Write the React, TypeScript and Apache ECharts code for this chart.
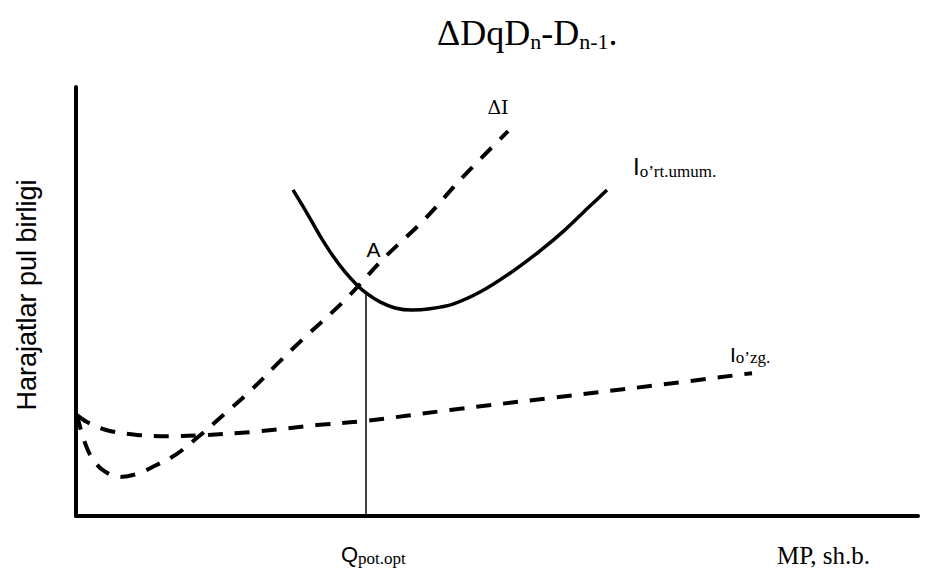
import React, { useEffect, useRef } from "react";
import * as echarts from "echarts";

// Curve points in chart units (x: 0..100, y: 0..100)
const deltaICurve: [number, number][] = [
  [0.12, 23.5], [0.95, 17.7], [1.9, 13.5], [3.33, 10.5], [5.23, 9.1], [7.24, 9.8],
  [9.38, 11.7], [11.99, 14.5], [14.49, 18.4], [17.46, 23.5], [20.67, 29.1],
  [24.23, 36.1], [26.6, 40.6], [32.07, 50.6], [36.46, 59.9], [41.33, 69.0],
  [45.84, 78.8], [51.31, 89.7],
];

const variableCostCurve: [number, number][] = [
  [0.12, 23.5], [1.31, 21.9], [3.68, 20.0], [7.24, 18.9], [11.16, 18.6], [14.73, 18.8],
  [21.02, 19.6], [28.62, 21.2], [34.09, 22.1], [44.42, 24.7], [56.29, 27.5],
  [68.17, 30.3], [80.29, 33.3],
];

const averageTotalCurve: [number, number][] = [
  [25.77, 76.0], [27.43, 70.6], [28.98, 65.3], [30.52, 60.6], [31.95, 56.9],
  [33.25, 54.1], [34.44, 52.0], [36.1, 49.9], [37.89, 48.5], [39.9, 48.0],
  [42.04, 48.3], [44.77, 49.4], [47.98, 52.2], [51.54, 56.6], [55.11, 61.8],
  [58.08, 66.7], [60.69, 71.6], [63.06, 76.0],
];

const optimumX = 34.44;
const optimumY = 52.0;
const optimumLine: [number, number][] = [
  [optimumX, 0],
  [optimumX, optimumY],
];

const titleParts = ["ΔDqD", "n", "-D", "n-1", "."];
const yAxisTitle = "Harajatlar pul birligi";
const xAxisTitle = "MP, sh.b.";

const SANS = "'Liberation Sans', Arial, sans-serif";
const SERIF = "'Liberation Serif', 'Times New Roman', serif";

export default function App() {
  const ref = useRef<HTMLDivElement>(null);

  useEffect(() => {
    if (!ref.current) return;
    const chart = echarts.init(ref.current, null, { renderer: "svg" });

    const axisCommon = {
      type: "value" as const,
      min: 0,
      max: 100,
      axisLine: { show: true, onZero: false, lineStyle: { color: "#000", width: 4 } },
      axisTick: { show: false },
      axisLabel: { show: false },
      splitLine: { show: false },
    };

    const dashed = { color: "#000", width: 4, type: [15, 12] as number[], cap: "butt" as const };

    chart.setOption({
      animation: false,
      backgroundColor: "#ffffff",
      grid: { left: 76, top: 87, right: 16, bottom: 54 },
      xAxis: axisCommon,
      yAxis: axisCommon,
      series: [
        {
          name: "ΔI",
          type: "line",
          data: deltaICurve,
          smooth: 0.35,
          symbol: "none",
          lineStyle: dashed,
        },
        {
          name: "I o'zg.",
          type: "line",
          data: variableCostCurve,
          smooth: 0.35,
          symbol: "none",
          lineStyle: dashed,
        },
        {
          name: "I o'rt.umum.",
          type: "line",
          data: averageTotalCurve,
          smooth: 0.3,
          symbol: "none",
          lineStyle: { color: "#000", width: 3.5 },
        },
        {
          name: "Q",
          type: "line",
          data: optimumLine,
          symbol: "none",
          lineStyle: { color: "#000", width: 1.5 },
        },
      ],
      graphic: [
        {
          type: "text",
          x: 437,
          y: 13,
          style: {
            text:
              `{m|${titleParts[0]}}{s|${titleParts[1]}}{m|${titleParts[2]}}{s|${titleParts[3]}}{m|${titleParts[4]}}`,
            align: "left",
            verticalAlign: "top",
            textAlign: "left",
            textVerticalAlign: "top",
            rich: {
              m: { fontFamily: SERIF, fontSize: 36, lineHeight: 39, verticalAlign: "middle", fill: "#000" },
              s: { fontFamily: SERIF, fontSize: 22, lineHeight: 23, verticalAlign: "bottom", fill: "#000" },
            },
          },
        },
        {
          type: "text",
          x: 27,
          y: 295,
          rotation: Math.PI / 2,
          style: {
            text: yAxisTitle,
            fontFamily: SANS,
            fontSize: 27,
            fill: "#000",
            align: "center",
            verticalAlign: "middle",
            textAlign: "center",
            textVerticalAlign: "middle",
          },
        },
        {
          type: "text",
          x: 498,
          y: 107,
          style: {
            text: "ΔI",
            fontFamily: "'DejaVu Serif', serif",
            fontSize: 19,
            fill: "#000",
            align: "center",
            verticalAlign: "middle",
            textAlign: "center",
            textVerticalAlign: "middle",
          },
        },
        {
          type: "text",
          x: 373.5,
          y: 249,
          style: {
            text: "A",
            fontFamily: SANS,
            fontSize: 21,
            fill: "#000",
            align: "center",
            verticalAlign: "middle",
            textAlign: "center",
            textVerticalAlign: "middle",
          },
        },
        {
          type: "text",
          x: 633,
          y: 152,
          style: {
            text: "{i|I}{s|o’rt.umum.}",
            align: "left",
            verticalAlign: "top",
            textAlign: "left",
            textVerticalAlign: "top",
            rich: {
              i: { fontFamily: SANS, fontSize: 24, lineHeight: 28, verticalAlign: "middle", fill: "#000" },
              s: { fontFamily: SERIF, fontSize: 17, lineHeight: 14, verticalAlign: "bottom", fill: "#000" },
            },
          },
        },
        {
          type: "text",
          x: 730,
          y: 342,
          style: {
            text: "{i|I}{s|o’zg.}",
            align: "left",
            verticalAlign: "top",
            textAlign: "left",
            textVerticalAlign: "top",
            rich: {
              i: { fontFamily: SANS, fontSize: 21, lineHeight: 24, verticalAlign: "middle", fill: "#000" },
              s: { fontFamily: SERIF, fontSize: 17, lineHeight: 16, verticalAlign: "bottom", fill: "#000" },
            },
          },
        },
        {
          type: "text",
          x: 341,
          y: 541,
          style: {
            text: "{q|Q}{s|pot.opt}",
            align: "left",
            verticalAlign: "top",
            textAlign: "left",
            textVerticalAlign: "top",
            rich: {
              q: { fontFamily: SANS, fontSize: 22, lineHeight: 26, verticalAlign: "middle", fill: "#000" },
              s: { fontFamily: SERIF, fontSize: 17, lineHeight: 16, verticalAlign: "bottom", fill: "#000" },
            },
          },
        },
        {
          type: "text",
          x: 777,
          y: 555,
          style: {
            text: xAxisTitle,
            fontFamily: SERIF,
            fontSize: 25,
            fill: "#000",
            align: "left",
            verticalAlign: "middle",
            textAlign: "left",
            textVerticalAlign: "middle",
          },
        },
      ],
    });

    return () => {
      chart.dispose();
    };
  }, []);

  return (
    <div
      ref={ref}
      style={{ position: "fixed", left: 0, top: 0, width: 934, height: 570, background: "#fff" }}
    />
  );
}
